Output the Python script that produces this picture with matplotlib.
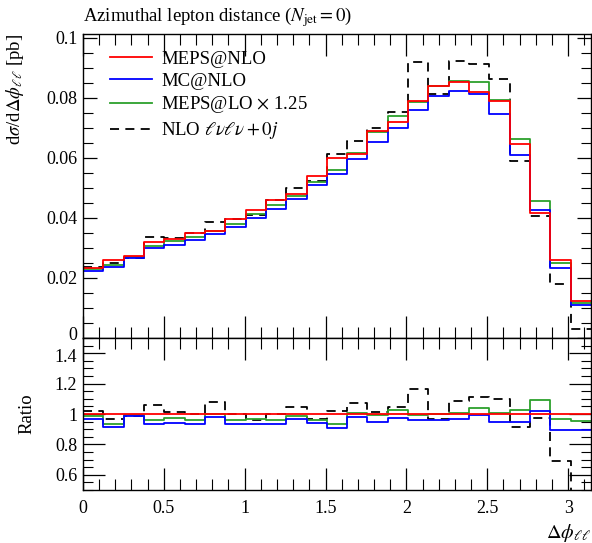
import numpy as np
import matplotlib
matplotlib.use('Agg')
import matplotlib.pyplot as plt
import matplotlib.transforms as mtransforms
from matplotlib.ticker import MultipleLocator, FixedLocator

plt.rcParams['font.family'] = ['Liberation Serif', 'DejaVu Serif']
plt.rcParams['mathtext.fontset'] = 'stix'

# 25 bins in delta phi between the two leptons, 0 .. pi
edges = np.linspace(0, np.pi, 26)

meps_nlo = [0.0232, 0.0260, 0.0272, 0.0320, 0.0330, 0.0351, 0.0356, 0.0396, 0.0427, 0.0460,
            0.0479, 0.0541, 0.0601, 0.0612, 0.0690, 0.0719, 0.0790, 0.0841, 0.0852, 0.0819,
            0.0788, 0.0646, 0.0418, 0.0260, 0.0124]
mc_nlo = [0.0224, 0.0238, 0.0268, 0.0299, 0.0310, 0.0327, 0.0348, 0.0371, 0.0399, 0.0431,
          0.0464, 0.0510, 0.0545, 0.0598, 0.0652, 0.0701, 0.0758, 0.0807, 0.0823, 0.0812,
          0.0747, 0.0611, 0.0427, 0.0232, 0.0111]
meps_lo = [0.0229, 0.0243, 0.0270, 0.0308, 0.0322, 0.0338, 0.0357, 0.0380, 0.0412, 0.0443,
           0.0474, 0.0519, 0.0561, 0.0618, 0.0686, 0.0738, 0.0787, 0.0841, 0.0857, 0.0854,
           0.0793, 0.0662, 0.0457, 0.0251, 0.0118]
nlo_0j = [0.0236, 0.0251, 0.0268, 0.0338, 0.0334, 0.0351, 0.0385, 0.0396, 0.0410, 0.0460,
          0.0501, 0.0524, 0.0612, 0.0658, 0.0701, 0.0754, 0.0921, 0.0813, 0.0923, 0.0912,
          0.0864, 0.0590, 0.0408, 0.0180, 0.0030]

series = [
    (nlo_0j, 'black', (0, (5, 3.5)), r'NLO $\ell\nu\ell\nu+0j$'),
    (meps_lo, '#2ca02c', '-', r'MEPS@LO $\times$ 1.25'),
    (mc_nlo, 'blue', '-', 'MC@NLO'),
    (meps_nlo, 'red', '-', 'MEPS@NLO'),
]


def step_xy(vals):
    v = np.asarray(vals)
    return edges, np.append(v, v[-1])


fig = plt.figure(figsize=(5.92, 5.43), dpi=100)
ax = fig.add_axes([0.140, 0.3775, 0.8585, 0.560])
rax = fig.add_axes([0.140, 0.0976, 0.8585, 0.2799], sharex=ax)

ref = np.asarray(meps_nlo)
for vals, col, ls, lab in series:
    x, y = step_xy(vals)
    ax.step(x, y, where='post', color=col, linestyle=ls, linewidth=1.3, label=lab)
    r = np.asarray(vals) / ref
    rx, ry = step_xy(r)
    rax.step(rx, ry, where='post', color=col, linestyle=ls, linewidth=1.3)

h, l = ax.get_legend_handles_labels()
order = [3, 2, 1, 0]
ax.legend([h[i] for i in order], [l[i] for i in order], loc='upper left', frameon=False,
          fontsize=13.5, handlelength=2.2, handletextpad=0.5, labelspacing=0.25,
          bbox_to_anchor=(0.021, 1.0), borderaxespad=0.5)

ax.set_xlim(0, np.pi)
ax.set_ylim(0, 0.1013)
rax.set_ylim(0.5, 1.5)

ax.yaxis.set_major_locator(FixedLocator([0, 0.02, 0.04, 0.06, 0.08, 0.1]))
ax.yaxis.set_minor_locator(MultipleLocator(0.005))
ax.set_yticklabels(['0', '0.02', '0.04', '0.06', '0.08', '0.1'])
ax.xaxis.set_major_locator(MultipleLocator(0.5))
ax.xaxis.set_minor_locator(MultipleLocator(0.1))
rax.yaxis.set_major_locator(FixedLocator([0.6, 0.8, 1.0, 1.2, 1.4]))
rax.yaxis.set_minor_locator(MultipleLocator(0.05))
rax.set_yticklabels(['0.6', '0.8', '1', '1.2', '1.4'])
rax.set_xticks([0, 0.5, 1, 1.5, 2, 2.5, 3])
rax.set_xticklabels(['0', '0.5', '1', '1.5', '2', '2.5', '3'])

for a in (ax, rax):
    a.tick_params(which='both', direction='in', top=True, right=True, labelsize=13)
    a.tick_params(axis='x', which='major', length=16, width=0.9, pad=7)
    a.tick_params(axis='x', which='minor', length=8, width=0.8)
    for s in a.spines.values():
        s.set_linewidth(1.0)
ax.tick_params(axis='y', which='major', length=10, width=0.9, pad=4)
ax.tick_params(axis='y', which='minor', length=7, width=0.8)
rax.tick_params(axis='y', which='major', length=16, width=0.9, pad=4)
rax.tick_params(axis='y', which='minor', length=7, width=0.8)
ax.tick_params(labelbottom=False)

# keep the "0" of the upper panel clear of the "1.4" below it
fig.canvas.draw()
ax.get_yticklabels()[0].set_transform(
    ax.get_yticklabels()[0].get_transform() + mtransforms.ScaledTranslation(0, 3 / 72, fig.dpi_scale_trans))
rax.get_yticklabels()[-1].set_transform(
    rax.get_yticklabels()[-1].get_transform() + mtransforms.ScaledTranslation(0, -2 / 72, fig.dpi_scale_trans))

ax.set_ylabel(r'd$\sigma$/d$\Delta\phi_{\ell\ell}$ [pb]', fontsize=13.5)
ax.yaxis.set_label_coords(-0.112, 1.0)
ax.yaxis.label.set_horizontalalignment('right')
rax.set_ylabel('Ratio', fontsize=13.5)
rax.yaxis.set_label_coords(-0.093, 0.5)
rax.set_xlabel(r'$\Delta\phi_{\ell\ell}$', fontsize=14.5)
rax.xaxis.set_label_coords(1.0, -0.21)
rax.xaxis.label.set_horizontalalignment('right')

ax.set_title(r'Azimuthal lepton distance ($N_\mathrm{jet}=0$)', loc='left', fontsize=13.5, pad=9)

fig.savefig('out.png', dpi=100)
